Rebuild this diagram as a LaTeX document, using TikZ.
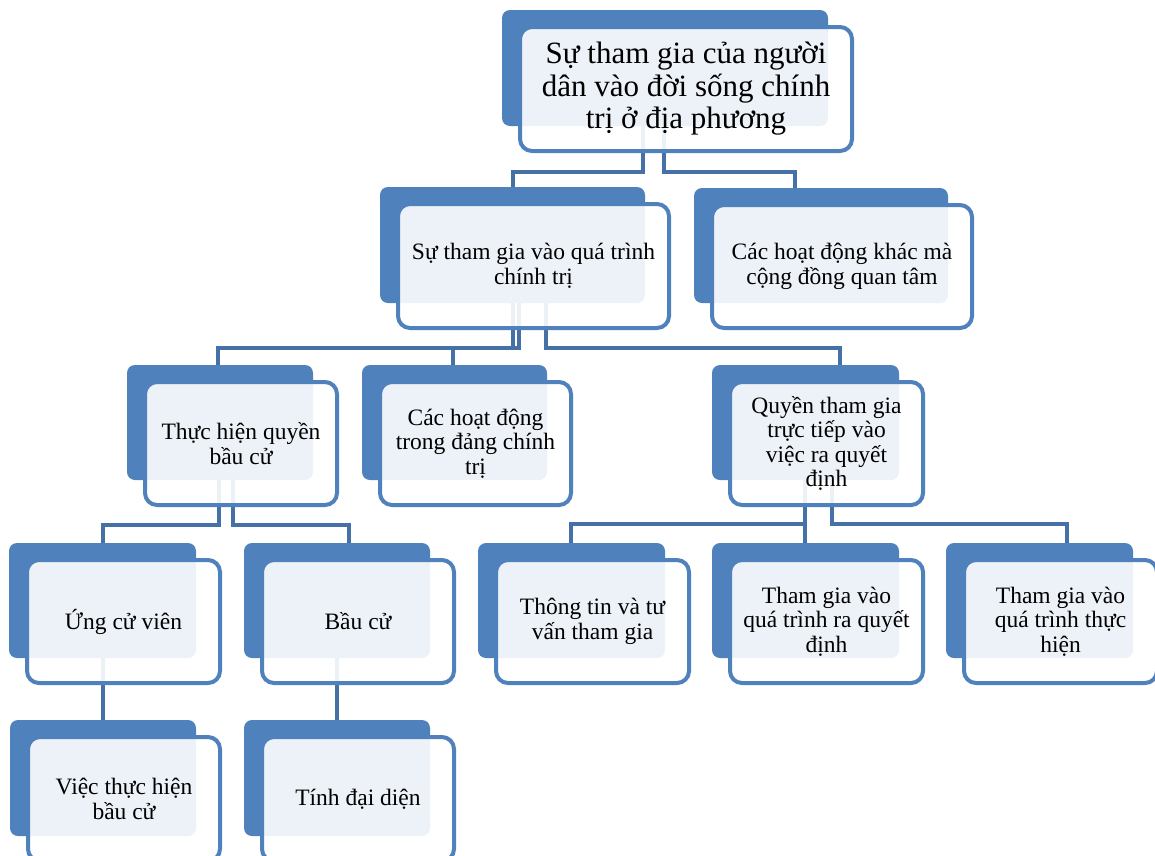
\documentclass[tikz,border=0pt]{standalone}
\usepackage{fontspec}
\setmainfont{Liberation Serif}
\definecolor{boxblue}{HTML}{4F81BD}
\definecolor{connblue}{HTML}{4571A7}
\pgfdeclarelayer{bglayer}
\pgfdeclarelayer{connlayer}
\pgfsetlayers{bglayer,connlayer,main}
\newcommand\orgunit[7]{%
  \node[backbox, minimum width={#4*1pt}, minimum height={#5*1pt}] (b#1) at (#2,#3) {};
  \node[frontbox, minimum width={(#4+6)*1pt}, minimum height={(#5+8)*1pt}, #7] (f#1) at (#2+18,#3+17) {#6};
}
\begin{document}
\begin{tikzpicture}[x=1pt,y=-1pt,
  conn/.style={draw=connblue, line width=4pt},
  backbox/.style={fill=boxblue, rounded corners=8pt, anchor=north west, inner sep=0pt, outer sep=0pt},
  frontbox/.style={draw=boxblue, line width=4pt, fill=white, fill opacity=0.9, text opacity=1,
    rounded corners=12pt, anchor=north west, inner sep=0pt, outer sep=0pt, align=center,
    font=\fontsize{23.5}{24.5}\selectfont, text=black},
  bigtext/.style={font=\fontsize{31}{32.5}\selectfont}
]
\begin{pgfonlayer}{bglayer}
\fill[white] (0,0) rectangle (1155,855);
\end{pgfonlayer}
\useasboundingbox (0,0) rectangle (1155,855);

\orgunit{1}{502}{10}{326}{116}{Sự tham gia của người\\dân vào đời sống chính\\trị ở địa phương}{bigtext}
\orgunit{2}{380}{187}{265}{116}{Sự tham gia vào quá trình\\chính trị}{}
\orgunit{3}{694}{188}{254}{115}{Các hoạt động khác mà\\cộng đồng quan tâm}{}
\orgunit{4}{127}{365}{186}{115}{Thực hiện quyền\\bầu cử}{}
\orgunit{5}{362}{365}{185}{115}{Các hoạt động\\trong đảng chính\\trị}{}
\orgunit{6}{712}{365}{187}{115}{Quyền tham gia\\trực tiếp vào\\việc ra quyết\\định}{}
\orgunit{7}{9}{543}{187}{115}{Ứng cử viên}{}
\orgunit{8}{244}{543}{186}{115}{Bầu cử}{}
\orgunit{9}{478}{543}{187}{115}{Thông tin và tư\\vấn tham gia}{}
\orgunit{10}{712}{543}{187}{115}{Tham gia vào\\quá trình ra quyết\\định}{}
\orgunit{11}{946}{543}{187}{115}{Tham gia vào\\quá trình thực\\hiện}{}
\orgunit{12}{10}{720}{186}{116}{Việc thực hiện\\bầu cử}{}
\orgunit{13}{244}{720}{186}{116}{Tính đại diện}{}

\begin{pgfonlayer}{connlayer}
\draw[conn] (b1.south -| 643,0) |- (513,172) -- (b2.north -| 513,0);
\draw[conn] (b1.south -| 664,0) |- (795,172) -- (b3.north -| 795,0);
\draw[conn] (b2.south -| 513,0) |- (218,348) -- (b4.north -| 218,0);
\draw[conn] (b2.south -| 519,0) |- (453,348) -- (b5.north -| 453,0);
\draw[conn] (b2.south -| 546,0) |- (840,348) -- (b6.north -| 840,0);
\draw[conn] (b4.south -| 219,0) |- (103,525) -- (b7.north -| 103,0);
\draw[conn] (b4.south -| 233,0) |- (349,525) -- (b8.north -| 349,0);
\draw[conn] (b6.south -| 805,0) |- (571,524) -- (b9.north -| 571,0);
\draw[conn] (b6.south -| 805,0) -- (b10.north -| 805,0);
\draw[conn] (b6.south -| 832,0) |- (1067,524) -- (b11.north -| 1067,0);
\draw[conn] (b7.south -| 103,0) -- (b12.north -| 103,0);
\draw[conn] (b8.south -| 337,0) -- (b13.north -| 337,0);
\end{pgfonlayer}
\end{tikzpicture}
\end{document}
